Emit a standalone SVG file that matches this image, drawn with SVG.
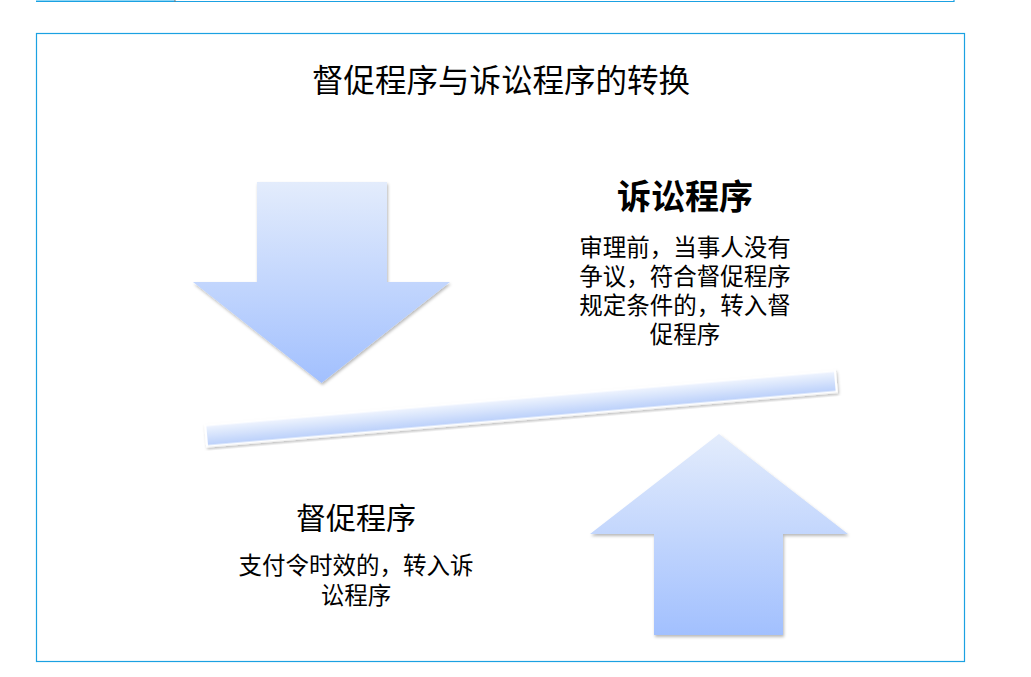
<svg xmlns="http://www.w3.org/2000/svg" width="1031" height="677" viewBox="0 0 1031 677">
<style>
.t{font-family:"Liberation Sans","Noto Sans CJK SC",sans-serif;fill:#000;text-anchor:middle}
.body{font-size:23.5px}
.frame{fill:none;stroke:#1BA1E2;stroke-width:1.2}
</style>
<defs>
<linearGradient id="ag" x1="0" y1="0" x2="0" y2="1">
<stop offset="0" stop-color="#E3ECFC"/>
<stop offset="1" stop-color="#A2C0FE"/>
</linearGradient>
<linearGradient id="bg" x1="0" y1="0" x2="0" y2="1">
<stop offset="0" stop-color="#F0F5FE"/>
<stop offset="1" stop-color="#B9CFFA"/>
</linearGradient>
<filter id="sh" x="-10%" y="-10%" width="120%" height="130%">
<feDropShadow dx="1" dy="2" stdDeviation="1.5" flood-color="#000" flood-opacity="0.28"/>
</filter>
</defs>
<rect width="1031" height="677" fill="#fff"/>
<g id="topbar">
<rect x="36" y="0" width="139" height="1.5" fill="#8ED6F5"/>
<line x1="36" y1="1.5" x2="954" y2="1.5" stroke="#1BA1E2" stroke-width="1.2"/>
<line x1="175" y1="0" x2="175" y2="2" stroke="#777" stroke-width="1"/>
<line x1="954" y1="0" x2="954" y2="2" stroke="#1BA1E2" stroke-width="1.2"/>
</g>
<rect id="frame" class="frame" x="36.5" y="33.5" width="928" height="628"/>
<g id="title"><text class="t" x="501" y="92" font-size="31.5">督促程序与诉讼程序的转换</text></g>
<g id="connectors">
<g id="down-arrow"><polygon points="257,182 387,182 387,282 450,282 321.5,383 193,282 257,282" fill="url(#ag)" filter="url(#sh)"/></g>
<g id="up-arrow"><polygon points="719,434 848,534 783,534 783,635 654,635 654,534 590,534" fill="url(#ag)" filter="url(#sh)"/></g>
<g id="bar"><rect x="-316" y="-10.5" width="632" height="21" transform="translate(521,408.5) rotate(-4.94)" fill="url(#bg)" stroke="#fff" stroke-width="2" filter="url(#sh)"/></g>
</g>
<g id="node-litigation">
<text class="t" x="685" y="209" font-size="34" font-weight="bold">诉讼程序</text>
<text class="t body" x="685" y="256">审理前，当事人没有</text>
<text class="t body" x="685" y="285">争议，符合督促程序</text>
<text class="t body" x="685" y="314">规定条件的，转入督</text>
<text class="t body" x="685" y="343">促程序</text>
</g>
<g id="node-supervision">
<text class="t" x="356" y="529" font-size="30">督促程序</text>
<text class="t body" x="356" y="574">支付令时效的，转入诉</text>
<text class="t body" x="356" y="604">讼程序</text>
</g>
</svg>
